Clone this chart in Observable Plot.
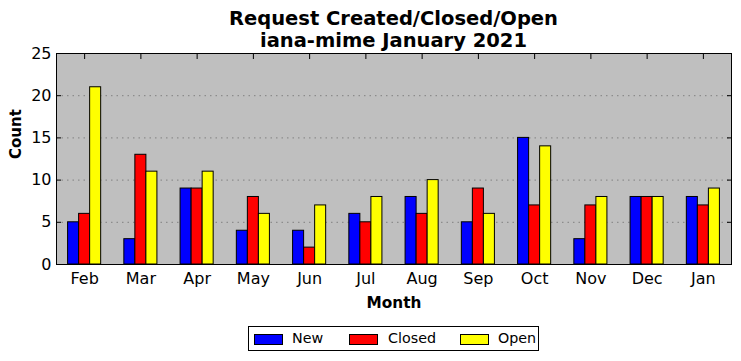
<!DOCTYPE html>
<html>
<head>
<meta charset="utf-8">
<script src="https://cdn.jsdelivr.net/npm/d3@7"></script>
<script src="https://cdn.jsdelivr.net/npm/@observablehq/plot@0.6"></script>
<style>
  body { margin: 0; background: #fff; font-family: "DejaVu Sans", sans-serif; }
  #wrap { position: relative; width: 741px; height: 361px; }
  #title { position: absolute; left: 56px; width: 675px; top: 8px; text-align: center; font-weight: bold; font-size: 19.5px; line-height: 22px; color: #000; }
  #legend { position: absolute; left: 248px; top: 326px; width: 289px; height: 23px; border: 1px solid #000; background: #fff; font-size: 14.3px; }
  .sw { position: absolute; top: 7px; width: 27px; height: 9px; border: 1px solid #000; }
  .lb { position: absolute; top: 3px; line-height: 16px; }
</style>
</head>
<body>
<div id="wrap">
  <div id="chart"></div>
  <div id="title">Request Created/Closed/Open<br>iana-mime January 2021</div>
  <div id="legend"></div>
</div>
<script>
const months = ["Feb","Mar","Apr","May","Jun","Jul","Aug","Sep","Oct","Nov","Dec","Jan"];
const newCounts    = [5, 3, 9, 4, 4, 6, 8, 5, 15, 3, 8, 8];
const closedCounts = [6, 13, 9, 8, 2, 5, 6, 9, 7, 7, 8, 7];
const openCounts   = [21, 11, 11, 6, 7, 8, 10, 6, 14, 8, 8, 9];
const seriesNames  = ["New", "Closed", "Open"];
const yTicks = [0, 5, 10, 15, 20, 25];

const seriesColors = ["#0000ff", "#ff0000", "#ffff00"];
const allSeries = [newCounts, closedCounts, openCounts];

const rows = [];
months.forEach((m, i) => {
  allSeries.forEach((vals, k) => {
    rows.push({i, month: m, series: seriesNames[k], k, value: vals[i]});
  });
});
const barW = 0.196;
const blank = () => "";

const chart = Plot.plot({
  width: 741,
  height: 361,
  marginTop: 53,
  marginBottom: 97,
  marginLeft: 56,
  marginRight: 10,
  style: { fontFamily: "DejaVu Sans, sans-serif", background: "transparent", overflow: "visible" },
  x: { type: "linear", domain: [-0.5, months.length - 0.5], axis: null },
  y: { domain: [0, 25], axis: null },
  color: { domain: seriesNames, range: seriesColors },
  marks: [
    Plot.frame({ fill: "#bfbfbf", stroke: null }),
    Plot.gridY(yTicks.filter(t => t > 0 && t < 25), { stroke: "#808080", strokeOpacity: 1, strokeDasharray: "1.5,4", strokeWidth: 1 }),
    Plot.rect(rows, {
      x1: d => d.i - 1.5 * barW + d.k * barW,
      x2: d => d.i - 1.5 * barW + (d.k + 1) * barW,
      y1: 0,
      y2: "value",
      fill: "series",
      stroke: "#000",
      strokeWidth: 1
    }),
    Plot.axisY(yTicks, { anchor: "left", tickSize: 0, tickPadding: 5, fontSize: 16, label: null, fill: "#000" }),
    Plot.axisY(yTicks, { anchor: "right", tickSize: -5, tickFormat: blank, label: null }),
    Plot.axisY(yTicks, { anchor: "left", tickSize: -5, tickFormat: blank, label: null }),
    Plot.axisX(d3.range(months.length), { anchor: "bottom", tickSize: 0, tickPadding: 8, fontSize: 16, tickFormat: i => months[i], label: null, fill: "#000" }),
    Plot.axisX(d3.range(months.length), { anchor: "top", tickSize: -5, tickFormat: blank, label: null }),
    Plot.frame({ stroke: "#000", strokeWidth: 1 }),
    Plot.text(["Month"], { frameAnchor: "bottom", dy: 43, fontSize: 15.3, fontWeight: "bold", fill: "#000" }),
    Plot.text(["Count"], { frameAnchor: "left", dx: -40, rotate: -90, fontSize: 15, fontWeight: "bold", fill: "#000" })
  ]
});
document.getElementById("chart").appendChild(chart);

const legend = document.getElementById("legend");
const swX = [5, 100, 211];
const lbX = [43, 139, 249];
seriesNames.forEach((name, k) => {
  const sw = document.createElement("div");
  sw.className = "sw";
  sw.style.left = swX[k] + "px";
  sw.style.background = seriesColors[k];
  legend.appendChild(sw);
  const lb = document.createElement("div");
  lb.className = "lb";
  lb.style.left = lbX[k] + "px";
  lb.textContent = name;
  legend.appendChild(lb);
});
</script>
</body>
</html>
